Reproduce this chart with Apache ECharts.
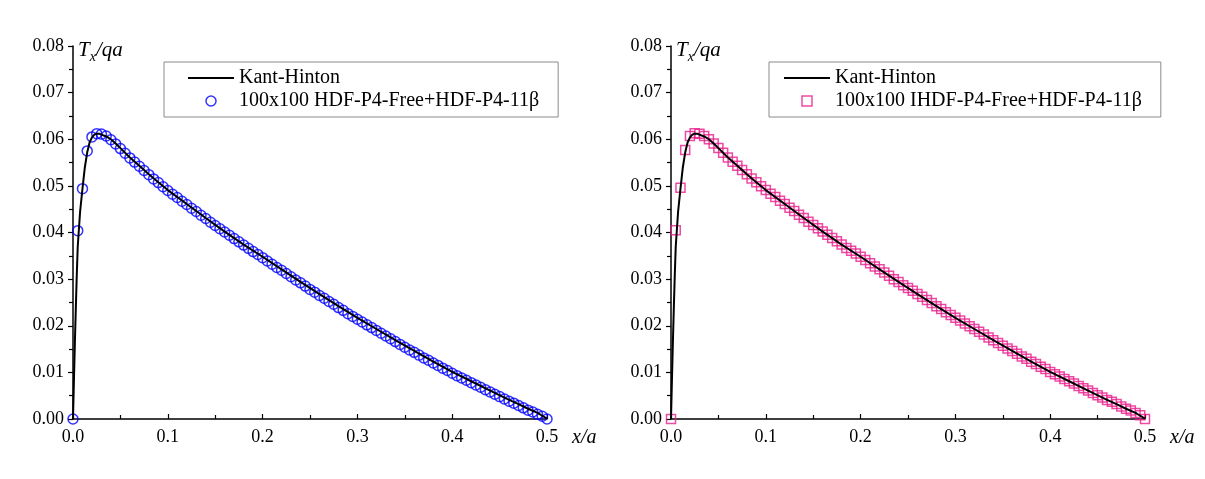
<!DOCTYPE html>
<html>
<head>
<meta charset="utf-8">
<script src="https://cdn.jsdelivr.net/npm/echarts@6/dist/echarts.min.js"></script>
<style>
  html, body { margin: 0; padding: 0; background: #fff; }
  #chart { width: 1205px; height: 479px; }
</style>
</head>
<body>
<div id="chart"></div>
<script>
// Mesh points along x/a (100x100 grid, half span 0..0.5)
const meshX = [
  0.000, 0.005, 0.010, 0.015, 0.020, 0.025, 0.030, 0.035, 0.040, 0.045,
  0.050, 0.055, 0.060, 0.065, 0.070, 0.075, 0.080, 0.085, 0.090, 0.095,
  0.100, 0.105, 0.110, 0.115, 0.120, 0.125, 0.130, 0.135, 0.140, 0.145,
  0.150, 0.155, 0.160, 0.165, 0.170, 0.175, 0.180, 0.185, 0.190, 0.195,
  0.200, 0.205, 0.210, 0.215, 0.220, 0.225, 0.230, 0.235, 0.240, 0.245,
  0.250, 0.255, 0.260, 0.265, 0.270, 0.275, 0.280, 0.285, 0.290, 0.295,
  0.300, 0.305, 0.310, 0.315, 0.320, 0.325, 0.330, 0.335, 0.340, 0.345,
  0.350, 0.355, 0.360, 0.365, 0.370, 0.375, 0.380, 0.385, 0.390, 0.395,
  0.400, 0.405, 0.410, 0.415, 0.420, 0.425, 0.430, 0.435, 0.440, 0.445,
  0.450, 0.455, 0.460, 0.465, 0.470, 0.475, 0.480, 0.485, 0.490, 0.495,
  0.500
];

// Tx/qa, HDF-P4-Free + HDF-P4-11beta
const hdfValues = [
  0.0000, 0.0404, 0.0494, 0.0575, 0.0605, 0.0612, 0.0611, 0.0607, 0.0599, 0.0590,
  0.0580, 0.0570, 0.0560, 0.0551, 0.0542, 0.0533, 0.0524, 0.0515, 0.0507, 0.0498,
  0.0490, 0.0482, 0.0475, 0.0467, 0.0460, 0.0452, 0.0445, 0.0437, 0.0430, 0.0422,
  0.0415, 0.0408, 0.0401, 0.0394, 0.0387, 0.0380, 0.0373, 0.0366, 0.0359, 0.0353,
  0.0346, 0.0339, 0.0332, 0.0325, 0.0319, 0.0312, 0.0305, 0.0298, 0.0292, 0.0285,
  0.0278, 0.0272, 0.0265, 0.0259, 0.0252, 0.0246, 0.0239, 0.0233, 0.0226, 0.0220,
  0.0214, 0.0208, 0.0202, 0.0196, 0.0190, 0.0184, 0.0178, 0.0172, 0.0166, 0.0160,
  0.0154, 0.0148, 0.0143, 0.0137, 0.0131, 0.0126, 0.0120, 0.0115, 0.0109, 0.0104,
  0.0098, 0.0093, 0.0088, 0.0083, 0.0078, 0.0073, 0.0068, 0.0063, 0.0058, 0.0053,
  0.0048, 0.0043, 0.0038, 0.0034, 0.0029, 0.0024, 0.0019, 0.0015, 0.0010, 0.0006,
  0.0000
];

// Tx/qa, IHDF-P4-Free + HDF-P4-11beta
const ihdfValues = [
  0.0000, 0.0405, 0.0496, 0.0577, 0.0607, 0.0613, 0.0612, 0.0607, 0.0600, 0.0591,
  0.0581, 0.0571, 0.0561, 0.0552, 0.0543, 0.0534, 0.0525, 0.0516, 0.0508, 0.0499,
  0.0491, 0.0483, 0.0476, 0.0468, 0.0461, 0.0453, 0.0446, 0.0438, 0.0431, 0.0423,
  0.0416, 0.0409, 0.0402, 0.0395, 0.0388, 0.0381, 0.0374, 0.0367, 0.0361, 0.0355,
  0.0348, 0.0341, 0.0334, 0.0327, 0.0321, 0.0314, 0.0307, 0.0300, 0.0294, 0.0287,
  0.0281, 0.0275, 0.0268, 0.0262, 0.0255, 0.0249, 0.0242, 0.0236, 0.0229, 0.0223,
  0.0217, 0.0211, 0.0205, 0.0199, 0.0193, 0.0187, 0.0181, 0.0175, 0.0169, 0.0163,
  0.0157, 0.0151, 0.0146, 0.0140, 0.0134, 0.0129, 0.0123, 0.0118, 0.0112, 0.0107,
  0.0101, 0.0096, 0.0091, 0.0086, 0.0081, 0.0076, 0.0071, 0.0066, 0.0061, 0.0056,
  0.0051, 0.0046, 0.0041, 0.0037, 0.0032, 0.0027, 0.0022, 0.0018, 0.0013, 0.0008,
  0.0000
];

// Kant-Hinton reference solution
const khX = [
  0, 0.001, 0.002, 0.003, 0.004, 0.005, 0.0075, 0.01, 0.0125, 0.015,
  0.0175, 0.02, 0.0225, 0.025, 0.0275, 0.03, 0.035, 0.04, 0.045, 0.05,
  0.06, 0.07, 0.08, 0.09, 0.10, 0.12, 0.14, 0.16, 0.18, 0.20,
  0.22, 0.24, 0.26, 0.28, 0.30, 0.32, 0.34, 0.36, 0.38, 0.40,
  0.42, 0.44, 0.46, 0.47, 0.48, 0.49, 0.495, 0.5
];
const khValues = [
  0, 0.0085, 0.0165, 0.0240, 0.0310, 0.0370, 0.0445, 0.0494, 0.0540, 0.0572,
  0.0593, 0.0604, 0.0610, 0.0612, 0.0612, 0.0610, 0.0606, 0.0600, 0.0591, 0.0581,
  0.0561, 0.0543, 0.0525, 0.0508, 0.0491, 0.0461, 0.0431, 0.0402, 0.0374, 0.0348,
  0.0321, 0.0294, 0.0268, 0.0242, 0.0217, 0.0193, 0.0169, 0.0146, 0.0123, 0.0101,
  0.0081, 0.0061, 0.0041, 0.0032, 0.0022, 0.0013, 0.0007, 0.0001
];

const names = {
  ref: 'Kant-Hinton',
  left: '100x100 HDF-P4-Free+HDF-P4-11\u03b2',
  right: '100x100 IHDF-P4-Free+HDF-P4-11\u03b2'
};

const BLUE = '#0000ff';
const PINK = '#e91e8c';
const FONT = '"Liberation Serif", "Times New Roman", serif';
const zip = (xs, ys) => xs.map((x, i) => [x, ys[i]]);

function xAxisFor(gridIndex) {
  return {
    gridIndex, type: 'value', min: 0, max: 0.5, interval: 0.1,
    axisLine: { onZero: false, lineStyle: { color: '#000', width: 1.5 } },
    axisTick: { inside: true, length: 5, lineStyle: { color: '#000', width: 1.2 } },
    minorTick: { show: true, splitNumber: 2, length: 4, lineStyle: { color: '#000', width: 1.2 } },
    splitLine: { show: false },
    axisLabel: { formatter: v => v.toFixed(1), fontFamily: FONT, fontSize: 18, color: '#000', margin: 9 },
    name: 'x/a', nameLocation: 'end', nameGap: 25,
    nameTextStyle: { fontFamily: FONT, fontSize: 20, fontStyle: 'italic', color: '#000',
      align: 'left', verticalAlign: 'top', lineHeight: 20, padding: [9, 0, 0, 0] }
  };
}

function yAxisFor(gridIndex) {
  return {
    gridIndex, type: 'value', min: 0, max: 0.08, interval: 0.01,
    axisLine: { onZero: false, lineStyle: { color: '#000', width: 1.5 } },
    axisTick: { inside: false, length: 5, lineStyle: { color: '#000', width: 1.2 } },
    minorTick: { show: true, splitNumber: 2, length: 4, lineStyle: { color: '#000', width: 1.2 } },
    splitLine: { show: false },
    axisLabel: { formatter: v => v.toFixed(2), fontFamily: FONT, fontSize: 18, color: '#000', margin: 9 },
    name: '{i|T}{s|x}{i|/qa}', nameLocation: 'end', nameGap: 0,
    nameTextStyle: {
      align: 'left', verticalAlign: 'middle', padding: [8, 0, 0, 5],
      rich: {
        i: { fontFamily: FONT, fontSize: 21, fontStyle: 'italic', color: '#000', lineHeight: 28, verticalAlign: 'middle' },
        s: { fontFamily: FONT, fontSize: 14, fontStyle: 'italic', color: '#000', lineHeight: 10, verticalAlign: 'bottom' }
      }
    }
  };
}

// Boxed legend: plain black line for the reference curve, hollow marker for the mesh result
function legendFor(left, padLeft, markerName, markerIcon, markerColor) {
  return {
    left, top: 62, orient: 'vertical', selectedMode: false,
    itemWidth: 46, itemHeight: 10, itemGap: 3,
    padding: [6, 19, 6, padLeft],
    borderColor: '#8a8a8a', borderWidth: 1, backgroundColor: '#fff',
    textStyle: { fontFamily: FONT, fontSize: 20, color: '#000', lineHeight: 20 },
    data: [
      { name: names.ref, itemStyle: { color: 'transparent', borderWidth: 0, opacity: 0 },
        lineStyle: { color: '#000', width: 2 } },
      { name: markerName, icon: markerIcon,
        itemStyle: { color: 'transparent', borderColor: markerColor, borderWidth: 1.5 } }
    ]
  };
}

const option = {
  backgroundColor: '#fff',
  animation: false,
  grid: [
    { left: 73, right: 658, top: 46, bottom: 60 },
    { left: 671, right: 60, top: 46, bottom: 60 }
  ],
  xAxis: [xAxisFor(0), xAxisFor(1)],
  yAxis: [yAxisFor(0), yAxisFor(1)],
  legend: [
    legendFor(164, 23, names.left, 'circle', BLUE),
    legendFor(769, 14, names.right, 'path://M0,0 L10,0 L10,10 L0,10 Z', PINK)
  ],
  series: [
    {
      name: names.left, type: 'scatter', xAxisIndex: 0, yAxisIndex: 0,
      data: zip(meshX, hdfValues), symbol: 'circle', symbolSize: 10,
      itemStyle: { color: 'transparent', borderColor: BLUE, borderWidth: 1.5 },
      z: 2
    },
    {
      name: names.ref, type: 'line', xAxisIndex: 0, yAxisIndex: 0,
      data: zip(khX, khValues), symbol: 'none', showSymbol: false,
      lineStyle: { color: '#000', width: 2 }, itemStyle: { color: '#000' },
      z: 3
    },
    {
      name: names.right, type: 'scatter', xAxisIndex: 1, yAxisIndex: 1,
      data: zip(meshX, ihdfValues), symbol: 'rect', symbolSize: 9,
      itemStyle: { color: 'transparent', borderColor: PINK, borderWidth: 1.5 },
      z: 2
    },
    {
      name: names.ref, type: 'line', xAxisIndex: 1, yAxisIndex: 1,
      data: zip(khX, khValues), symbol: 'none', showSymbol: false,
      lineStyle: { color: '#000', width: 2 }, itemStyle: { color: '#000' },
      z: 3
    }
  ]
};

const chart = echarts.init(document.getElementById('chart'), null, { renderer: 'canvas' });
chart.setOption(option);
</script>
</body>
</html>
